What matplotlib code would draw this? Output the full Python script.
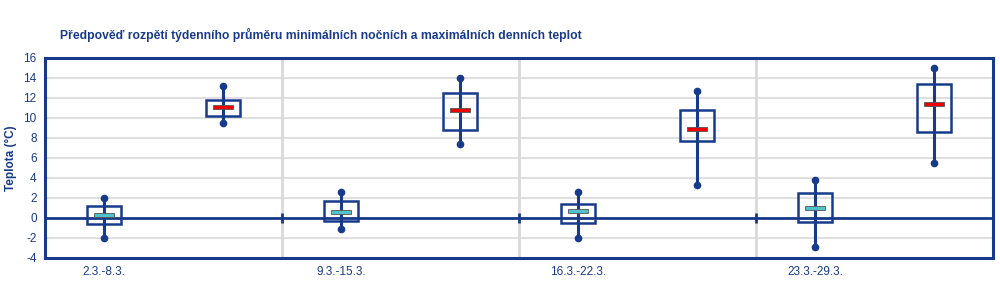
import matplotlib.pyplot as plt

# DATA
weeks = ['2.3.-8.3.', '9.3.-15.3.', '16.3.-22.3.', '23.3.-29.3.']

# minimum night temperatures
min_low = [-2.0, -1.1, -2.0, -2.9]
min_q1 = [-0.6, -0.3, -0.5, -0.35]
min_med = [0.35, 0.6, 0.7, 1.0]
min_q3 = [1.2, 1.7, 1.4, 2.5]
min_high = [2.0, 2.6, 2.6, 3.8]

# maximum day temperatures
max_low = [9.5, 7.4, 3.3, 5.5]
max_q1 = [10.2, 8.8, 7.7, 8.6]
max_med = [11.1, 10.8, 8.9, 11.4]
max_q3 = [11.8, 12.5, 10.8, 13.4]
max_high = [13.2, 14.0, 12.7, 15.0]

# STYLES
navy = '#173a8a'
grid_color = '#d9d9d9'
min_color = '#4fc3c9'
max_color = '#ee0000'
plt.rcParams['font.family'] = ['Liberation Sans', 'DejaVu Sans']
plt.rcParams['axes.unicode_minus'] = False


def draw_series(ax, xs, low, q1, med, q3, high, med_color):
    ax.bar(xs, [b - a for a, b in zip(q1, q3)], bottom=q1, width=0.29,
           fill=False, edgecolor=navy, linewidth=1.8, zorder=4)
    ax.vlines(xs, low, high, color=navy, linewidth=2.2, zorder=5)
    ax.plot(xs, low, 'o', color=navy, markersize=4.5, zorder=6)
    ax.plot(xs, high, 'o', color=navy, markersize=4.5, zorder=6)
    ax.bar(xs, 0.4, bottom=[m - 0.2 for m in med], width=0.17,
           color=med_color, edgecolor='#555555', linewidth=0.6, zorder=7)


fig = plt.figure(figsize=(10, 3.04), dpi=100)
ax = fig.add_axes([0.045, 1 - 258 / 304, 0.948, 200 / 304])

x_min = [2 * i for i in range(len(weeks))]
x_max = [2 * i + 1 for i in range(len(weeks))]

draw_series(ax, x_min, min_low, min_q1, min_med, min_q3, min_high, min_color)
draw_series(ax, x_max, max_low, max_q1, max_med, max_q3, max_high, max_color)

# zero line with category ticks
ax.axhline(0, color=navy, linewidth=2, zorder=3)
bounds = [2 * i + 1.5 for i in range(len(weeks) - 1)]
for b in bounds:
    ax.axvline(b, color=grid_color, linewidth=2, zorder=1)
ax.plot(bounds, [0] * len(bounds), '|', color=navy, markersize=7,
        markeredgewidth=2, zorder=4)

ax.set_xlim(-0.5, 2 * len(weeks) - 0.5)
ax.set_ylim(-4, 16)
ax.set_yticks(range(-4, 17, 2))
ax.set_xticks(x_min)
ax.set_xticklabels(weeks)
ax.tick_params(length=0, labelsize=8.5, labelcolor=navy, pad=6)
ax.tick_params(axis='x', pad=6)
ax.yaxis.grid(True, color=grid_color, linewidth=1.2, zorder=0)
ax.set_axisbelow(True)
for s in ax.spines.values():
    s.set_color(navy)
    s.set_linewidth(2.2)

ax.set_ylabel('Teplota (°C)', color=navy, fontsize=8.5, fontweight='bold')
ax.yaxis.set_label_coords(-0.0295, 0.5)
fig.text(0.06, 0.885, 'Předpověď rozpětí týdenního průměru minimálních nočních a maximálních denních teplot',
         color=navy, fontsize=8.7, fontweight='bold', va='center')

fig.savefig('out.png', dpi=100)
